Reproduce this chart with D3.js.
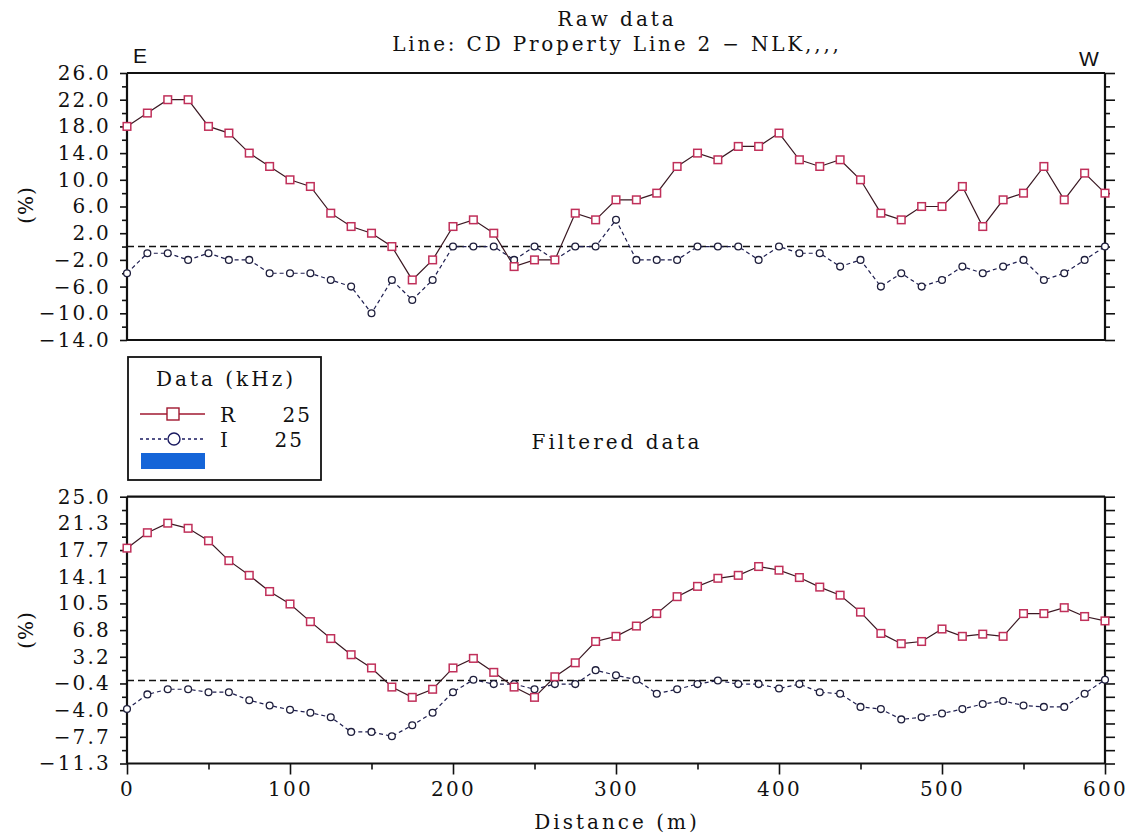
<html>
<head>
<script src="https://cdn.jsdelivr.net/npm/d3@7"></script>
<style>
body {margin:0; background:#fff;}
text {font-family: "DejaVu Serif", serif; fill:#111;}
</style>
</head>
<body>
<svg width="1131" height="840"></svg>
<script>

// stations along the line (m)
var distance = [0,12.5,25,37.5,50,62.5,75,87.5,100,112.5,125,137.5,150,162.5,175,187.5,200,212.5,225,237.5,250,262.5,275,287.5,300,312.5,325,337.5,350,362.5,375,387.5,400,412.5,425,437.5,450,462.5,475,487.5,500,512.5,525,537.5,550,562.5,575,587.5,600];

// raw data (%)
var rawR = [18,20,22,22,18,17,14,12,10,9,5,3,2,0,-5,-2,3,4,2,-3,-2,-2,5,4,7,7,8,12,14,13,15,15,17,13,12,13,10,5,4,6,6,9,3,7,8,12,7,11,8];
var rawI = [-4,-1,-1,-2,-1,-2,-2,-4,-4,-4,-5,-6,-10,-5,-8,-5,0,0,0,-2,0,-2,0,0,4,-2,-2,-2,0,0,0,-2,0,-1,-1,-3,-2,-6,-4,-6,-5,-3,-4,-3,-2,-5,-4,-2,0];

// filtered data (%)
var filtR = [18.0,20.1,21.4,20.7,19.0,16.3,14.3,12.1,10.4,8.0,5.7,3.5,1.7,-0.9,-2.3,-1.2,1.7,3.0,1.1,-0.9,-2.3,0.5,2.4,5.3,6.0,7.4,9.1,11.4,12.8,13.9,14.3,15.5,15.0,14.0,12.7,11.6,9.3,6.4,5.0,5.3,7.0,6.0,6.3,6.0,9.1,9.1,9.9,8.7,8.1];
var filtI = [-3.9,-1.9,-1.2,-1.2,-1.6,-1.6,-2.7,-3.4,-4.0,-4.4,-5.0,-7.0,-7.0,-7.6,-6.1,-4.4,-1.6,0.1,-0.5,-0.5,-1.2,-0.5,-0.5,1.4,0.7,0.1,-1.8,-1.2,-0.5,0.0,-0.5,-0.5,-1.1,-0.5,-1.6,-1.8,-3.6,-3.9,-5.3,-5.0,-4.5,-3.9,-3.2,-2.8,-3.4,-3.6,-3.6,-1.8,0.1];

// tick labels
var rawTickValues = [26,22,18,14,10,6,2,-2,-6,-10,-14];
var rawTickLabels = ["26.0","22.0","18.0","14.0","10.0","6.0","2.0","\u22122.0","\u22126.0","\u221210.0","\u221214.0"];
var filtTickValues = [25,21.37,17.74,14.11,10.48,6.85,3.22,-0.41,-4.04,-7.67,-11.3];
var filtTickLabels = ["25.0","21.3","17.7","14.1","10.5","6.8","3.2","\u22120.4","\u22124.0","\u22127.7","\u221211.3"];
var distTickValues = [0,100,200,300,400,500,600];
var distMinorValues = [50,150,250,350,450,550];

var legendNames = ["R","I"];
var legendFreq = ["25","25"];

var svg = d3.select("svg");

var x = d3.scaleLinear().domain([0,600]).range([127,1105]);
var yRaw = d3.scaleLinear().domain([-14,26]).range([340,73]);
var yFilt = d3.scaleLinear().domain([-11.3,25]).range([763.5,496.7]);

function midpoints(v) {
  var m = [];
  for (var i = 0; i < v.length - 1; i++) m.push((v[i] + v[i+1]) / 2);
  return m;
}

function serif(sel, spacing) {
  sel.style("font-size", "20px")
     .style("letter-spacing", spacing + "px")
     .style("font-family", "DejaVu Serif, serif");
}

function drawPanel(y, tickVals, tickLabels, R, I, rightMinorShort) {
  var g = svg.append("g");

  // left axis, labels
  g.append("g")
    .attr("transform", "translate(127,0)")
    .call(d3.axisLeft(y).tickValues(tickVals).tickSize(7).tickPadding(9)
      .tickFormat(function(d, i) { return tickLabels[i]; }))
    .call(function(a) { a.select(".domain").remove(); })
    .selectAll("text").call(serif, 2.2);

  g.append("g")
    .attr("transform", "translate(127,0)")
    .call(d3.axisLeft(y).tickValues(midpoints(tickVals)).tickSize(5).tickFormat(""))
    .call(function(a) { a.select(".domain").remove(); });

  // right axis, no labels
  g.append("g")
    .attr("transform", "translate(1105,0)")
    .call(d3.axisRight(y).tickValues(tickVals).tickSize(10).tickFormat(""))
    .call(function(a) { a.select(".domain").remove(); });
  g.append("g")
    .attr("transform", "translate(1105,0)")
    .call(d3.axisRight(y).tickValues(midpoints(tickVals)).tickSize(rightMinorShort ? 5 : 10).tickFormat(""))
    .call(function(a) { a.select(".domain").remove(); });

  g.selectAll(".tick line").attr("stroke", "#111").attr("stroke-width", 1.6);

  // frame
  var y0 = y.range()[0], y1 = y.range()[1];
  g.append("line").attr("x1",127).attr("x2",1105).attr("y1",y1).attr("y2",y1).attr("stroke","#111").attr("stroke-width",2.2);
  g.append("line").attr("x1",127).attr("x2",1105).attr("y1",y0).attr("y2",y0).attr("stroke","#111").attr("stroke-width",2.2);
  g.append("line").attr("x1",127).attr("x2",127).attr("y1",y1).attr("y2",y0).attr("stroke","#111").attr("stroke-width",2.2);
  g.append("line").attr("x1",1105).attr("x2",1105).attr("y1",y1).attr("y2",y0).attr("stroke","#111").attr("stroke-width",2.2);

  // zero line
  g.append("line")
    .attr("x1", 127).attr("x2", 1105)
    .attr("y1", y(0)).attr("y2", y(0))
    .attr("stroke", "#111").attr("stroke-width", 1.4)
    .attr("stroke-dasharray", "7,4");

  var line = d3.line().x(function(d, i) { return x(distance[i]); }).y(function(d) { return y(d); });

  // I line
  g.append("path").datum(I)
    .attr("d", line)
    .attr("fill", "none")
    .attr("stroke", "#1e1e50")
    .attr("stroke-width", 1.2)
    .attr("stroke-dasharray", "4,3");

  // R line
  g.append("path").datum(R)
    .attr("d", line)
    .attr("fill", "none")
    .attr("stroke", "#3a1822")
    .attr("stroke-width", 1.2);

  g.selectAll("circle.pt").data(I).enter()
    .append("circle")
    .attr("class", "pt")
    .attr("cx", function(d, i) { return x(distance[i]); })
    .attr("cy", function(d) { return y(d); })
    .attr("r", 3.4)
    .attr("fill", "#fff")
    .attr("stroke", "#1e1e3c")
    .attr("stroke-width", 1.3);

  g.selectAll("rect.pt").data(R).enter()
    .append("rect")
    .attr("class", "pt")
    .attr("x", function(d, i) { return x(distance[i]) - 3.8; })
    .attr("y", function(d) { return y(d) - 3.8; })
    .attr("width", 7.6)
    .attr("height", 7.6)
    .attr("fill", "#fff")
    .attr("stroke", "#c0305a")
    .attr("stroke-width", 1.5);

  return g;
}

drawPanel(yRaw, rawTickValues, rawTickLabels, rawR, rawI, true);
drawPanel(yFilt, filtTickValues, filtTickLabels, filtR, filtI, false);

// distance axis under filtered panel
svg.append("g")
  .attr("transform", "translate(0,763.5)")
  .call(d3.axisBottom(x).tickValues(distTickValues).tickSize(11).tickPadding(7))
  .call(function(a) { a.select(".domain").remove(); })
  .selectAll("text").call(serif, 2.2);
svg.append("g")
  .attr("transform", "translate(0,763.5)")
  .call(d3.axisBottom(x).tickValues(distMinorValues).tickSize(6).tickFormat(""))
  .call(function(a) { a.select(".domain").remove(); });
svg.selectAll(".tick line").attr("stroke", "#111").attr("stroke-width", 1.6);

// titles
svg.append("text").attr("x", 617).attr("y", 26).attr("text-anchor", "middle")
  .call(serif, 3).text("Raw data");
svg.append("text").attr("x", 617).attr("y", 51).attr("text-anchor", "middle")
  .call(serif, 2.8).text("Line: CD Property Line 2 \u2212 NLK,,,,");
svg.append("text").attr("x", 617).attr("y", 449).attr("text-anchor", "middle")
  .call(serif, 3).text("Filtered data");
svg.append("text").attr("x", 617).attr("y", 829).attr("text-anchor", "middle")
  .call(serif, 3).text("Distance (m)");

// E / W
svg.append("text").attr("x", 140).attr("y", 63).attr("text-anchor", "middle")
  .style("font-family", "Liberation Sans, Arial, sans-serif").style("font-size", "21px").text("E");
svg.append("text").attr("x", 1089).attr("y", 66).attr("text-anchor", "middle")
  .style("font-family", "Liberation Sans, Arial, sans-serif").style("font-size", "21px").text("W");

// y titles
[205, 630].forEach(function(cy) {
  svg.append("text")
    .attr("transform", "translate(33," + cy + ") rotate(-90)")
    .attr("text-anchor", "middle")
    .call(serif, 1)
    .text("(%)");
});

// legend
var lg = svg.append("g");
lg.append("rect").attr("x", 128).attr("y", 357).attr("width", 193).attr("height", 123)
  .attr("fill", "#fff").attr("stroke", "#111").attr("stroke-width", 1.8);
lg.append("text").attr("x", 226).attr("y", 386).attr("text-anchor", "middle")
  .call(serif, 3).text("Data (kHz)");

var legY = [414, 439];
lg.append("line").attr("x1", 140).attr("x2", 205).attr("y1", legY[0]).attr("y2", legY[0])
  .attr("stroke", "#a01830").attr("stroke-width", 1.3);
lg.append("rect").attr("x", 167).attr("y", legY[0] - 6).attr("width", 12).attr("height", 12)
  .attr("fill", "#fff").attr("stroke", "#a01830").attr("stroke-width", 1.4);
lg.append("line").attr("x1", 140).attr("x2", 205).attr("y1", legY[1]).attr("y2", legY[1])
  .attr("stroke", "#1a1a60").attr("stroke-width", 1.3).attr("stroke-dasharray", "3,3");
lg.append("circle").attr("cx", 174).attr("cy", legY[1]).attr("r", 6)
  .attr("fill", "#fff").attr("stroke", "#1a1a60").attr("stroke-width", 1.4);

legendNames.forEach(function(n, i) {
  lg.append("text").attr("x", 220).attr("y", legY[i] + 8).call(serif, 1).text(n);
  lg.append("text").attr("x", i == 0 ? 312 : 304).attr("y", legY[i] + 8).attr("text-anchor", "end")
    .call(serif, 2).text(legendFreq[i]);
});
lg.append("rect").attr("x", 141).attr("y", 453).attr("width", 64).attr("height", 16).attr("fill", "#1565d8");

</script>
</body>
</html>
